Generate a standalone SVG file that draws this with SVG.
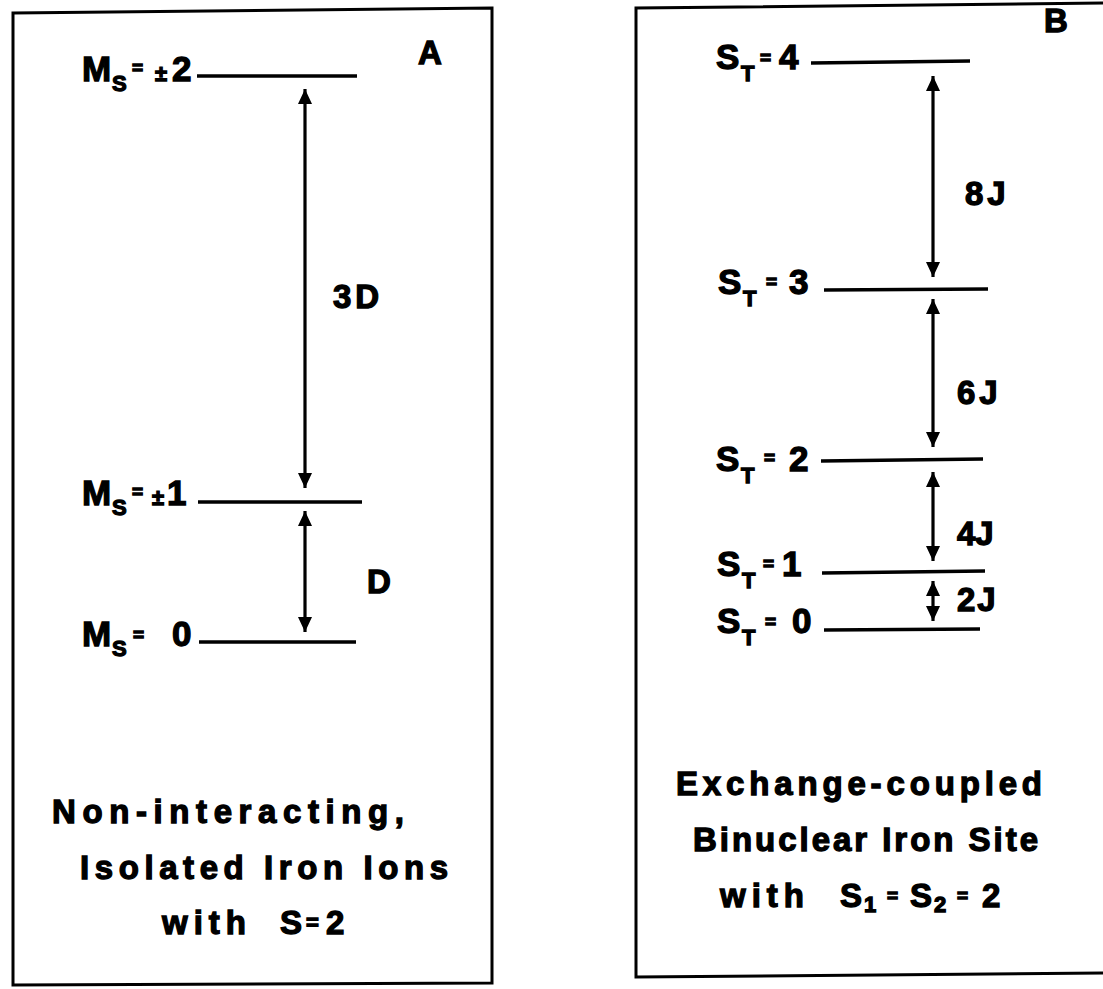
<svg xmlns="http://www.w3.org/2000/svg" width="1103" height="989" viewBox="0 0 1103 989">
<style>
text{font-family:"Liberation Sans",Arial,sans-serif;font-weight:bold;fill:#000;stroke:#000;stroke-width:1.3}
.lbl{font-size:35px}
.sub{font-size:22px}
.eq{font-size:19px}
.big{font-size:33px}
.frame{fill:none;stroke:#000;stroke-width:3}
.lvl{stroke:#000;stroke-width:3.5;fill:none}
.arr{stroke:#000;stroke-width:3.2;fill:none;marker-start:url(#ah);marker-end:url(#ah)}
</style>
<defs>
<marker id="ah" viewBox="0 0 15 14" refX="15" refY="7" markerWidth="15" markerHeight="14" markerUnits="userSpaceOnUse" orient="auto-start-reverse">
<path d="M0,0 L15,7 L0,14 Z" fill="#000"/>
</marker>
</defs>
<rect width="1103" height="989" fill="#fff"/>

<g id="panelA">
<path class="frame" d="M13,13 L492,8 L492,983 L13,985 Z"/>
<text class="big" x="418" y="64">A</text>
</g>
<g id="A-level2">
<line class="lvl" x1="197" y1="76" x2="357" y2="76"/>
<text class="lbl" x="82" y="81">M<tspan class="sub" x="112" y="91">S</tspan><tspan class="eq" x="132" y="74">=</tspan><tspan class="sub" x="155" y="81">±</tspan><tspan x="172" y="81">2</tspan></text>
</g>
<g id="A-level1">
<line class="lvl" x1="198" y1="502" x2="362" y2="502"/>
<text class="lbl" x="82" y="505">M<tspan class="sub" x="112" y="515">S</tspan><tspan class="eq" x="132" y="498">=</tspan><tspan class="sub" x="152" y="505">±</tspan><tspan x="167" y="505">1</tspan></text>
</g>
<g id="A-level0">
<line class="lvl" x1="199" y1="642" x2="356" y2="642"/>
<text class="lbl" x="82" y="646">M<tspan class="sub" x="112" y="656">S</tspan><tspan class="eq" x="133" y="641">=</tspan><tspan x="172" y="646">0</tspan></text>
</g>
<g id="A-labels">
<text class="big" x="333" y="308" letter-spacing="4">3D</text>
<text class="big" x="367" y="593">D</text>
<text class="big" x="52" y="823" textLength="352" lengthAdjust="spacing">Non-interacting,</text>
<text class="big" x="80" y="879" textLength="368" lengthAdjust="spacing">Isolated Iron Ions</text>
<text class="big" x="162" y="934" letter-spacing="6">with</text>
<text class="big" x="280" y="934">S<tspan class="sub" x="306" y="930">=</tspan><tspan x="326" y="934">2</tspan></text>
</g>

<g id="panelB">
<path class="frame" d="M1103,3 L636,8 L636,977 L1103,973"/>
<text class="big" x="1044" y="32">B</text>
</g>
<g id="B-level4">
<line class="lvl" x1="811" y1="63" x2="970" y2="61"/>
<text class="lbl" x="716" y="69">S<tspan class="sub" x="741" y="81">T</tspan><tspan class="eq" x="760" y="64">=</tspan><tspan x="779" y="69">4</tspan></text>
</g>
<g id="B-level3">
<line class="lvl" x1="824" y1="290" x2="988" y2="289"/>
<text class="lbl" x="718" y="294">S<tspan class="sub" x="743" y="306">T</tspan><tspan class="eq" x="766" y="288">=</tspan><tspan x="789" y="294">3</tspan></text>
</g>
<g id="B-level2">
<line class="lvl" x1="821" y1="461" x2="983" y2="459"/>
<text class="lbl" x="716" y="471">S<tspan class="sub" x="741" y="483">T</tspan><tspan class="eq" x="764" y="464">=</tspan><tspan x="789" y="471">2</tspan></text>
</g>
<g id="B-level1">
<line class="lvl" x1="822" y1="573" x2="985" y2="571"/>
<text class="lbl" x="717" y="576">S<tspan class="sub" x="742" y="588">T</tspan><tspan class="eq" x="763" y="570">=</tspan><tspan x="782" y="576">1</tspan></text>
</g>
<g id="B-level0">
<line class="lvl" x1="824" y1="630" x2="980" y2="629"/>
<text class="lbl" x="717" y="633">S<tspan class="sub" x="742" y="645">T</tspan><tspan class="eq" x="765" y="628">=</tspan><tspan x="792" y="633">0</tspan></text>
</g>
<g id="B-labels">
<text class="big" x="965" y="205" letter-spacing="4">8J</text>
<text class="big" x="957" y="404" letter-spacing="4">6J</text>
<text class="big" x="957" y="545">4J</text>
<text class="big" x="957" y="611" letter-spacing="2">2J</text>
<text class="big" x="676" y="795" textLength="366" lengthAdjust="spacing">Exchange-coupled</text>
<text class="big" x="693" y="851" textLength="345" lengthAdjust="spacing">Binuclear Iron Site</text>
<text class="big" x="720" y="907" letter-spacing="6">with</text>
<text class="big" x="840" y="907">S<tspan class="sub" x="864" y="912">1</tspan><tspan class="eq" x="887" y="902">=</tspan><tspan x="910" y="907">S</tspan><tspan class="sub" x="934" y="912">2</tspan><tspan class="eq" x="957" y="902">=</tspan><tspan x="982" y="907">2</tspan></text>
</g>

<g id="connectors">
<line class="arr" x1="305" y1="89" x2="305" y2="488"/>
<line class="arr" x1="305" y1="511" x2="305" y2="632"/>
<line class="arr" x1="933" y1="76" x2="933" y2="277"/>
<line class="arr" x1="933" y1="299" x2="933" y2="447"/>
<line class="arr" x1="933" y1="472" x2="933" y2="561"/>
<line class="arr" x1="933" y1="581" x2="933" y2="621"/>
</g>
</svg>
